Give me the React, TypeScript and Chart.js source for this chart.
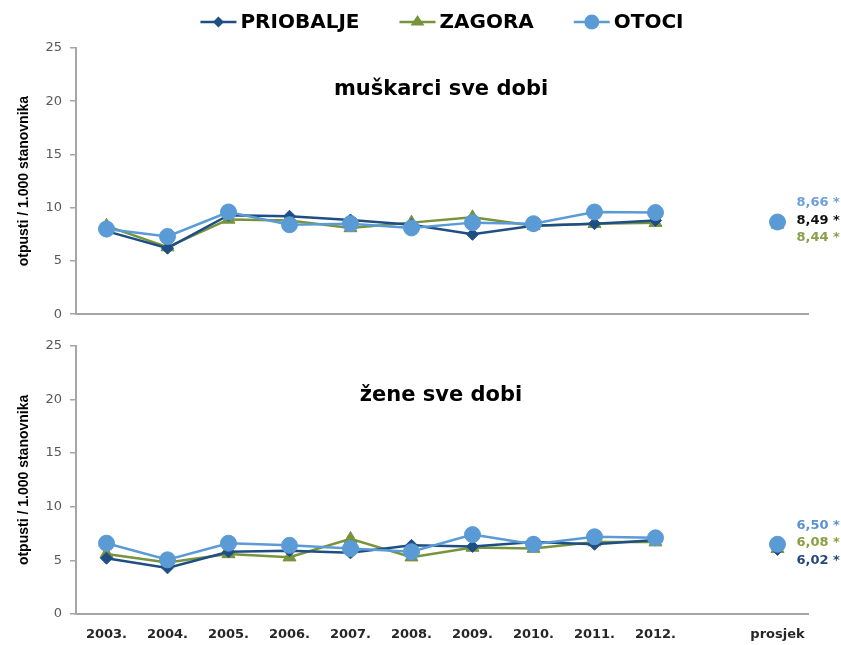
import React, { useEffect, useRef } from 'react';
import { Chart, registerables } from 'chart.js';

Chart.register(...registerables);

const categories = ['2003.', '2004.', '2005.', '2006.', '2007.', '2008.', '2009.', '2010.', '2011.', '2012.', '', 'prosjek'];
const seriesNames = ['PRIOBALJE', 'ZAGORA', 'OTOCI'];
const yTicks = [0, 5, 10, 15, 20, 25];

const menPriobalje = [7.8, 6.2, 9.3, 9.2, 8.85, 8.4, 7.5, 8.3, 8.5, 8.8];
const menZagora = [8.3, 6.3, 8.9, 8.8, 8.1, 8.6, 9.1, 8.3, 8.5, 8.6];
const menOtoci = [8.0, 7.3, 9.6, 8.4, 8.5, 8.1, 8.6, 8.5, 9.6, 9.55];
const menAverages = [8.49, 8.44, 8.66];
const menAverageLabels = ['8,49 *', '8,44 *', '8,66 *'];

const womenPriobalje = [5.2, 4.3, 5.8, 5.9, 5.7, 6.4, 6.3, 6.7, 6.5, 6.9];
const womenZagora = [5.6, 4.8, 5.6, 5.3, 7.0, 5.3, 6.2, 6.1, 6.7, 6.7];
const womenOtoci = [6.6, 5.05, 6.6, 6.4, 6.1, 5.8, 7.4, 6.5, 7.2, 7.1];
const womenAverages = [6.02, 6.08, 6.5];
const womenAverageLabels = ['6,02 *', '6,08 *', '6,50 *'];

const COLORS = ['#1f4e85', '#77933c', '#5b9bd5'];
const POINT_STYLES = ['rectRot', 'triangle', 'circle'];
const POINT_RADII = [6, 7.5, 8];
const ORDERS = [1, 2, 0];
const FONT = "'DejaVu Sans', sans-serif";

type Panel = {
  title: string;
  series: number[][];
  averages: number[];
  averageLabels: string[];
  labelColors: string[];
  showXLabels: boolean;
  showLegend: boolean;
  height: number;
  padTop: number;
  xHeight: number;
  titleY: number;
};

const panels: Panel[] = [
  {
    title: 'muškarci sve dobi',
    series: [menPriobalje, menZagora, menOtoci],
    averages: menAverages,
    averageLabels: menAverageLabels,
    labelColors: ['#111111', '#8aa04a', '#6e9fd8'],
    showXLabels: false,
    showLegend: true,
    height: 330,
    padTop: 48,
    xHeight: 8,
    titleY: 90,
  },
  {
    title: 'žene sve dobi',
    series: [womenPriobalje, womenZagora, womenOtoci],
    averages: womenAverages,
    averageLabels: womenAverageLabels,
    labelColors: ['#27497a', '#8aa040', '#5b93d0'],
    showXLabels: true,
    showLegend: false,
    height: 315,
    padTop: 7,
    xHeight: 31,
    titleY: 66,
  },
];

function drawMarker(ctx: CanvasRenderingContext2D, style: string, x: number, y: number, r: number, color: string) {
  ctx.save();
  ctx.fillStyle = color;
  ctx.beginPath();
  if (style === 'circle') {
    ctx.arc(x, y, r, 0, Math.PI * 2);
  } else if (style === 'rectRot') {
    ctx.moveTo(x, y - r);
    ctx.lineTo(x + r, y);
    ctx.lineTo(x, y + r);
    ctx.lineTo(x - r, y);
    ctx.closePath();
  } else {
    const h = r * 1.5;
    ctx.moveTo(x, y - h * 0.66);
    ctx.lineTo(x + r, y + h * 0.34);
    ctx.lineTo(x - r, y + h * 0.34);
    ctx.closePath();
  }
  ctx.fill();
  ctx.restore();
}

function makeOverlay(panel: Panel) {
  return {
    id: 'overlay',
    afterDraw(chart: any) {
      const ctx: CanvasRenderingContext2D = chart.ctx;
      const area = chart.chartArea;
      ctx.save();
      // panel title
      ctx.font = `bold 21px ${FONT}`;
      ctx.fillStyle = '#000000';
      ctx.textAlign = 'center';
      ctx.textBaseline = 'middle';
      ctx.fillText(panel.title, 441, panel.titleY);

      // average labels
      const lastIdx = categories.length - 1;
      const order = panel.averages.map((v, i) => i).sort((a, b) => panel.averages[b] - panel.averages[a]);
      const topIdx = order[0];
      const topMeta = chart.getDatasetMeta(topIdx);
      const topPt = topMeta.data[lastIdx];
      ctx.font = `bold 13px ${FONT}`;
      ctx.textAlign = 'left';
      order.forEach((si, k) => {
        ctx.fillStyle = panel.labelColors[si];
        ctx.fillText(panel.averageLabels[si], topPt.x + 19, topPt.y - 19 + k * 17.5);
      });

      // legend
      if (panel.showLegend) {
        ctx.font = `bold 20px ${FONT}`;
        const lineLen = 36;
        const gapText = 4;
        const gapItem = 40;
        const widths = seriesNames.map((n) => ctx.measureText(n).width);
        const total = widths.reduce((a, b) => a + b, 0) + seriesNames.length * (lineLen + gapText) + gapItem * (seriesNames.length - 1);
        let x = (area.left + area.right) / 2 - total / 2;
        const y = 22;
        seriesNames.forEach((n, i) => {
          ctx.strokeStyle = COLORS[i];
          ctx.lineWidth = 2.5;
          ctx.beginPath();
          ctx.moveTo(x, y);
          ctx.lineTo(x + lineLen, y);
          ctx.stroke();
          drawMarker(ctx, POINT_STYLES[i], x + lineLen / 2, y, POINT_RADII[i] - 0.5, COLORS[i]);
          ctx.fillStyle = '#000000';
          ctx.textAlign = 'left';
          ctx.fillText(n, x + lineLen + gapText, y + 1);
          x += lineLen + gapText + widths[i] + gapItem;
        });
      }
      ctx.restore();
    },
  };
}

function makeConfig(panel: Panel): any {
  const datasets = seriesNames.map((name, i) => ({
    label: name,
    data: [...panel.series[i], null, panel.averages[i]],
    borderColor: COLORS[i],
    backgroundColor: COLORS[i],
    pointBackgroundColor: COLORS[i],
    pointBorderColor: COLORS[i],
    pointStyle: POINT_STYLES[i],
    pointRadius: POINT_RADII[i],
    pointBorderWidth: 1,
    borderWidth: 2.5,
    order: ORDERS[i],
    spanGaps: false,
    tension: 0,
  }));
  return {
    type: 'line',
    data: { labels: categories, datasets },
    options: {
      animation: false,
      responsive: false,
      maintainAspectRatio: false,
      layout: { padding: { top: panel.padTop, right: 33, left: 0, bottom: 0 } },
      plugins: { legend: { display: false }, tooltip: { enabled: false } },
      scales: {
        x: {
          type: 'category',
          offset: true,
          grid: { display: false, drawTicks: false },
          border: { color: '#a6a6a6', width: 2 },
          ticks: {
            display: panel.showXLabels,
            autoSkip: false,
            maxRotation: 0,
            padding: 13,
            color: '#262626',
            font: { family: FONT, size: 13, weight: 'bold' },
          },
          afterFit: (s: any) => {
            s.height = panel.xHeight;
          },
        },
        y: {
          min: yTicks[0],
          max: yTicks[yTicks.length - 1],
          afterBuildTicks: (s: any) => {
            s.ticks = yTicks.map((v) => ({ value: v }));
          },
          ticks: {
            padding: 8,
            color: '#595959',
            font: { family: FONT, size: 13 },
          },
          grid: { drawOnChartArea: false, drawTicks: true, tickLength: 6, color: '#a6a6a6', lineWidth: 1.5 },
          border: { color: '#a6a6a6', width: 2 },
          title: {
            display: true,
            text: 'otpusti / 1.000 stanovnika',
            color: '#000000',
            font: { family: "'Liberation Sans', sans-serif", size: 14, weight: 'bold' },
            padding: { top: 16, bottom: 0 },
          },
          afterFit: (s: any) => {
            s.width = 76;
          },
        },
      },
    },
    plugins: [makeOverlay(panel)],
  };
}

function PanelChart({ panel, top }: { panel: Panel; top: number }) {
  const ref = useRef<HTMLCanvasElement | null>(null);
  useEffect(() => {
    if (!ref.current) return;
    const chart = new Chart(ref.current, makeConfig(panel));
    return () => chart.destroy();
  }, [panel]);
  return (
    <canvas
      ref={ref}
      width={841}
      height={panel.height}
      style={{ position: 'absolute', left: 0, top, width: 841, height: panel.height, display: 'block' }}
    />
  );
}

export default function App() {
  return (
    <div style={{ position: 'absolute', left: 0, top: 0, width: 841, height: 645, background: '#ffffff', overflow: 'hidden' }}>
      <PanelChart panel={panels[0]} top={0} />
      <PanelChart panel={panels[1]} top={330} />
    </div>
  );
}
